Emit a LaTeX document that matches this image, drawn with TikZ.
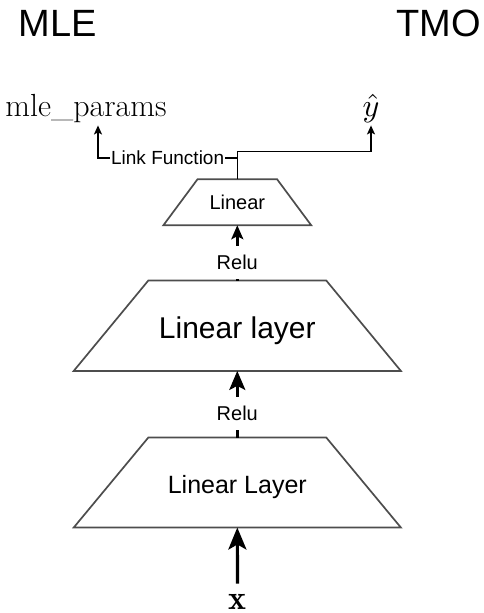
\documentclass[tikz,border=0pt]{standalone}
\usepackage{graphicx}
\usepackage{fontspec}
\newfontfamily\arial{Liberation Sans}
\usetikzlibrary{arrows.meta,calc}
\definecolor{trapgray}{HTML}{4D4D4D}
\begin{document}
\begin{tikzpicture}[x=1pt,y=-1pt,
  layer/.style={inner sep=0pt, text depth=0pt},
  trapline/.style={draw=trapgray, line width=1.7pt, line join=miter},
  head/.style={anchor=base, inner sep=0pt, font=\arial\fontsize{38}{44}\selectfont},
  mathlbl/.style={anchor=base, inner sep=3pt, font=\fontsize{32}{38}\selectfont},
  conn/.style={draw=black, line width=1.4pt, -{Stealth[length=9pt,width=8pt,inset=2pt]}},
  lf/.style={fill=white, inner xsep=1pt, inner ysep=2pt, text height=13.6pt, text depth=0pt, font=\arial\fontsize{19}{23}\selectfont},
  relu/.style={fill=white, inner xsep=3pt, inner ysep=9pt, text height=15pt, text depth=0pt, font=\arial\fontsize{20}{24}\selectfont},
  arrA/.style={draw=black, line width=2.4pt, -{Stealth[length=14pt,width=12pt,inset=3pt]}},
  arrB/.style={draw=black, line width=2.8pt, -{Stealth[length=19pt,width=16pt,inset=4pt]}},
  arrC/.style={draw=black, line width=3.2pt, -{Stealth[length=22pt,width=18pt,inset=5pt]}}]

\useasboundingbox (0,0) rectangle (483,613);

% headings
\node[head] (hmle) at (57.5,36.7) {MLE};
\node[head] (htmo) at (438.5,36.7) {TMO};

% outputs
\node[mathlbl] (mlep) at (86,116) {mle\_params};
\node[anchor=base, inner sep=3pt] (yhat) at (371,116) {\scalebox{3.2}{$\hat{y}$}};

% layers
\node[layer, minimum width=147.4pt, minimum height=45.7pt, text height=15.3pt,
      font=\arial\fontsize{20}{24}\selectfont] (lin) at (237.3,202.2) {Linear};
\draw[trapline] ([xshift=34.2pt]lin.north west) -- ([xshift=-34.2pt]lin.north east)
  -- (lin.south east) -- (lin.south west) -- cycle;

\node[layer, minimum width=326.7pt, minimum height=90pt, text height=24.7pt,
      font=\arial\fontsize{30}{36}\selectfont] (mid) at (237.3,325.7) {Linear layer};
\draw[trapline] ([xshift=74.6pt]mid.north west) -- ([xshift=-74.6pt]mid.north east)
  -- (mid.south east) -- (mid.south west) -- cycle;

\node[layer, minimum width=326.7pt, minimum height=89.6pt, text height=21.5pt,
      font=\arial\fontsize{25}{30}\selectfont] (bot) at (237.3,482.5) {Linear Layer};
\draw[trapline] ([xshift=74.6pt]bot.north west) -- ([xshift=-74.6pt]bot.north east)
  -- (bot.south east) -- (bot.south west) -- cycle;

% input
\node[anchor=base, inner sep=1pt] (xin) at (237.5,609.5) {\scalebox{3.4}{$\mathbf{x}$}};

% connectors
\draw[arrC] ([yshift=9.5pt]xin.north) -- (bot.south);
\draw[arrB] (bot.north) -- (mid.south);
\node[relu] (r2) at (237.3,413) {Relu};
\draw[arrA] (mid.north) -- (lin.south);
\node[relu] (r1) at (237.3,262) {Relu};

\draw[conn] (lin.north) -- ++(0,-21.3) -| node[pos=0.25, lf] (lfn) {Link Function} ([xshift=12pt]mlep.south);
\draw[conn] (lin.north) -- ++(0,-27.6) -| (yhat.south);
\end{tikzpicture}
\end{document}
